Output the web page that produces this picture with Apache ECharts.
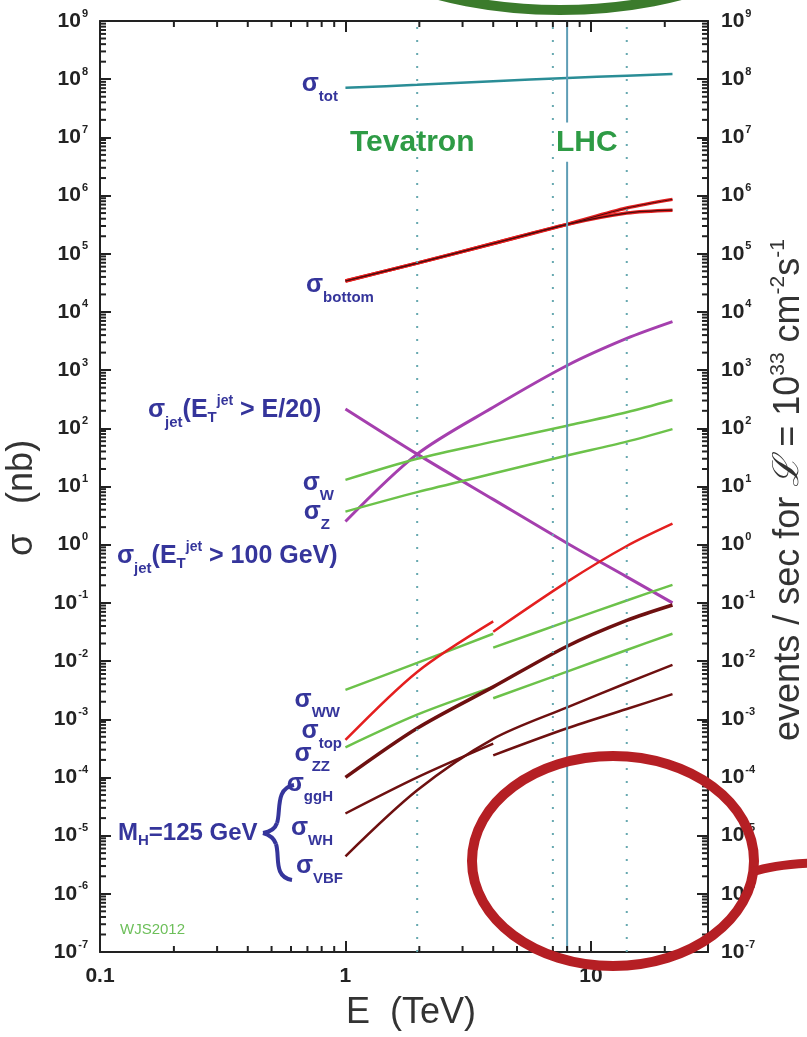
<!DOCTYPE html>
<html>
<head>
<meta charset="utf-8">
<script src="https://cdn.jsdelivr.net/npm/echarts@6/dist/echarts.min.js"></script>
<style>
html, body { margin: 0; padding: 0; background: #fff; }
#main { width: 807px; height: 1037px; }
</style>
</head>
<body>
<div id="main"></div>
<script>
// ---- data (E in TeV, sigma in nb) ----
var eFull  = [1, 1.96, 4, 8, 14, 21.5];
var ePpbar = [1, 1.96, 4];
var ePp    = [4, 8, 14, 21.5];

var sigTot       = [7.1e7, 8.0e7, 9.2e7, 1.05e8, 1.15e8, 1.23e8];
var sigBottom    = [3.4e4, 6.9e4, 1.5e5, 3.2e5, 6.1e5, 8.6e5];
var sigBottomAlt = [3.4e4, 6.9e4, 1.5e5, 3.2e5, 5.0e5, 5.6e5];
var sigJet100    = [2.5, 36, 230, 1200, 3500, 6800];
var sigJetE20    = [215, 36, 6.0, 1.06, 0.28, 0.1];
var sigW         = [13, 30, 59, 111, 189, 307];
var sigZ         = [3.7, 8, 16.7, 34, 59, 97];
var sigGgH       = [1e-4, 7e-4, 3.6e-3, 1.8e-2, 5.0e-2, 9.2e-2];
var sigVBF       = [4.4e-6, 6e-5, 4.6e-4, 1.6e-3, 4.2e-3, 8.6e-3];

var sigWWPpbar  = [3.2e-3, 9.3e-3, 2.95e-2];
var sigWWPp     = [1.7e-2, 4.8e-2, 0.11, 0.204];
var sigTopPpbar = [4.4e-4, 6.5e-3, 4.8e-2];
var sigTopPp    = [3.2e-2, 0.23, 0.95, 2.3];
var sigZZPpbar  = [3.3e-4, 1.2e-3, 3.6e-3];
var sigZZPp     = [2.3e-3, 6.6e-3, 1.55e-2, 2.95e-2];
var sigWHPpbar  = [2.4e-5, 1.0e-4, 3.8e-4];
var sigWHPp     = [2.4e-4, 7e-4, 1.5e-3, 2.7e-3];

// collider energies
var eTevatron = 1.96;
var eLHC = [7, 14];
var eLHCrun = 8;

// axis ranges and minor tick multipliers
var xMin = 0.1, xMax = 30;
var yMin = 1e-7, yMax = 1e9;
var minorMult = [2, 3, 4, 5, 6, 7, 8, 9];

var xMinorTicks = [];
[0.1, 1, 10].forEach(function (d) {
    minorMult.forEach(function (m) { if (d * m < xMax) xMinorTicks.push(d * m); });
});
var yMinorTicks = [];
for (var k = -7; k < 9; k++) {
    minorMult.forEach(function (m) { yMinorTicks.push(m * Math.pow(10, k)); });
}

var blue = '#35359b';
var font = 'Liberation Sans';

function pairs(xs, ys) {
    return xs.map(function (x, i) { return [x, ys[i]]; });
}
function curve(name, xs, ys, color, width, z) {
    return {
        name: name, type: 'line', data: pairs(xs, ys),
        showSymbol: false, smooth: 0.3, silent: true,
        lineStyle: { color: color, width: width }, z: z || 3
    };
}
function vline(x, y1, y2, color, type) {
    return {
        type: 'line', data: [[x, y1], [x, y2]], showSymbol: false, silent: true,
        lineStyle: { color: color, width: 2, type: type }, z: 6
    };
}

function powLabel(v) {
    var e = Math.log10(v);
    var r = Math.round(e);
    if (Math.abs(e - r) > 1e-6) return '';
    return '{b|10}{e|' + r + '}';
}
var tickRich = {
    b: { fontSize: 21, fontWeight: 'bold', color: '#222', fontFamily: font },
    e: { fontSize: 11, fontWeight: 'bold', color: '#222', fontFamily: font, padding: [0, 0, 15, 1] }
};
var axisCommon = {
    type: 'log', logBase: 10, interval: 1,
    axisLine: { show: true, onZero: false, lineStyle: { color: '#222', width: 2 } },
    axisTick: { show: true, inside: true, length: 11, lineStyle: { color: '#222', width: 2 } },
    splitLine: { show: false },
    minorTick: { show: false }
};

// sub/superscripts are shifted with padding (top pad lowers, bottom pad raises)
var labRich = {
    m: { fontSize: 25, fontWeight: 'bold', fill: blue, fontFamily: font },
    n: { fontSize: 24, fontWeight: 'bold', fill: blue, fontFamily: font },
    s: { fontSize: 15, fontWeight: 'bold', fill: blue, fontFamily: font, padding: [26, 0, 0, 0] },
    t: { fontSize: 15, fontWeight: 'bold', fill: blue, fontFamily: font, padding: [16, 0, 0, 0] },
    p: { fontSize: 14, fontWeight: 'bold', fill: blue, fontFamily: font, padding: [0, 0, 18, 0] }
};
function lab(x, y, text, align) {
    return { type: 'text', x: x, y: y, z: 20,
        style: { text: text, rich: labRich, fill: blue, align: align || 'right', verticalAlign: 'middle' } };
}
function bez(p) {
    return { type: 'bezierCurve', z: 50,
        shape: { x1: p[0], y1: p[1], cpx1: p[2], cpy1: p[3], cpx2: p[4], cpy2: p[5], x2: p[6], y2: p[7] } };
}

var chart = echarts.init(document.getElementById('main'), null, { renderer: 'canvas' });

var braceParts = [
    [294, 785, 275, 788, 281, 812, 277, 823],
    [277, 823, 275, 829, 270, 832, 263, 833],
    [263, 833, 270, 835, 274, 838, 276, 844],
    [276, 844, 280, 856, 273, 877, 292, 880]
].map(function (p) {
    var b = bez(p);
    b.style = { fill: 'none', stroke: blue, lineWidth: 4 };
    return b;
});
var tail = bez([752, 872, 770, 866, 790, 864, 810, 863]);
tail.style = { fill: 'none', stroke: '#b51f24', lineWidth: 9 };

var option = {
    backgroundColor: '#fff',
    animation: false,
    grid: { left: 100, right: 99, top: 21, bottom: 85, show: false },
    xAxis: [
        Object.assign({}, axisCommon, {
            position: 'bottom', min: xMin, max: xMax,
            axisLabel: {
                margin: 14, fontSize: 21, fontWeight: 'bold', color: '#222', fontFamily: font,
                formatter: function (v) {
                    var e = Math.log10(v);
                    if (Math.abs(e - Math.round(e)) > 1e-6) return '';
                    return String(+v.toPrecision(3));
                }
            }
        }),
        Object.assign({}, axisCommon, {
            position: 'top', min: xMin, max: xMax, axisLabel: { show: false }
        })
    ],
    yAxis: [
        Object.assign({}, axisCommon, {
            position: 'left', min: yMin, max: yMax,
            axisLabel: { margin: 12, formatter: powLabel, rich: tickRich }
        }),
        Object.assign({}, axisCommon, {
            position: 'right', min: yMin, max: yMax,
            axisLabel: { margin: 13, formatter: powLabel, rich: tickRich }
        })
    ],
    graphic: [
        // axis titles
        { type: 'text', x: 411, y: 1013, z: 20,
          style: { text: 'E  (TeV)', font: '36px Liberation Sans', fill: '#333', align: 'center', verticalAlign: 'middle' } },
        { type: 'text', x: 22, y: 498, rotation: Math.PI / 2, z: 20,
          style: { text: 'σ   (nb)', font: '36px Liberation Sans', fill: '#333', align: 'center', verticalAlign: 'middle' } },
        { type: 'text', x: 789, y: 490, rotation: Math.PI / 2, z: 20,
          style: {
              text: '{n|events / sec for }{i|ℒ}{n| = 10}{p|33}{n| cm}{p|-2}{n|s}{p|-1}',
              align: 'center', verticalAlign: 'middle', fill: '#333',
              rich: {
                  n: { fontSize: 36, fill: '#333', fontFamily: font },
                  i: { fontSize: 36, fill: '#333', fontFamily: 'DejaVu Serif', fontStyle: 'italic' },
                  p: { fontSize: 21, fill: '#333', fontFamily: font, padding: [0, 0, 22, 0] }
              }
          } },
        // collider names
        { type: 'text', x: 350, y: 143, z: 20,
          style: { text: 'Tevatron', font: 'bold 30px Liberation Sans', fill: '#2e9b45', verticalAlign: 'middle' } },
        { type: 'text', x: 556, y: 143, z: 20,
          style: { text: 'LHC', font: 'bold 30px Liberation Sans', fill: '#2e9b45', verticalAlign: 'middle' } },
        { type: 'text', x: 120, y: 930, z: 20,
          style: { text: 'WJS2012', font: '15px Liberation Sans', fill: '#6dbf5a', verticalAlign: 'middle' } },
        // curve labels
        lab(338, 84, '{m|σ}{s|tot}'),
        lab(306, 285, '{m|σ}{s|bottom}', 'left'),
        lab(148, 410, '{m|σ}{s|jet}{m|(E}{t|T}{p|jet}{m| > E/20)}', 'left'),
        lab(334, 483, '{m|σ}{s|W}'),
        lab(330, 512, '{m|σ}{s|Z}'),
        lab(117, 556, '{m|σ}{s|jet}{m|(E}{t|T}{p|jet}{m| > 100 GeV)}', 'left'),
        lab(340, 700, '{m|σ}{s|WW}'),
        lab(342, 731, '{m|σ}{s|top}'),
        lab(330, 754, '{m|σ}{s|ZZ}'),
        lab(333, 784, '{m|σ}{s|ggH}'),
        lab(333, 828, '{m|σ}{s|WH}'),
        lab(343, 866, '{m|σ}{s|VBF}'),
        lab(118, 833, '{n|M}{t|H}{n|=125 GeV}', 'left'),
        // annotation rings
        { type: 'ellipse', z: 50, shape: { cx: 613, cy: 861, rx: 141, ry: 105 },
          style: { fill: 'none', stroke: '#b51f24', lineWidth: 10 } },
        tail,
        { type: 'ellipse', z: 50, shape: { cx: 560, cy: -100, rx: 240, ry: 110 },
          style: { fill: 'none', stroke: '#3b7b2c', lineWidth: 10 } }
    ].concat(braceParts),
    series: [
        // collider lines
        vline(eTevatron, yMin, yMax, '#67a9b0', [2, 11]),
        vline(eLHC[0], yMin, yMax, '#67a9b0', [2, 11]),
        vline(eLHC[1], yMin, yMax, '#67a9b0', [2, 11]),
        vline(eLHCrun, yMax, 1.8e7, '#5e9db5', 'solid'),
        vline(eLHCrun, 3.8e6, yMin, '#5e9db5', 'solid'),
        // cross sections
        curve('tot', eFull, sigTot, '#2a8d96', 2.5),
        curve('bottom alt', eFull, sigBottomAlt, '#e41f1f', 3.5),
        curve('bottom', eFull, sigBottom, '#e41f1f', 3.5),
        curve('bottom alt core', eFull, sigBottomAlt, '#4a0c0c', 1.2, 4),
        curve('bottom core', eFull, sigBottom, '#4a0c0c', 1, 4),
        curve('jet E/20', eFull, sigJetE20, '#a53fae', 3),
        curve('jet 100', eFull, sigJet100, '#a53fae', 3),
        curve('W', eFull, sigW, '#6cc24a', 2.5),
        curve('Z', eFull, sigZ, '#6cc24a', 2.5),
        curve('WW ppbar', ePpbar, sigWWPpbar, '#6cc24a', 2.5),
        curve('WW pp', ePp, sigWWPp, '#6cc24a', 2.5),
        curve('top ppbar', ePpbar, sigTopPpbar, '#e41f1f', 2.5),
        curve('top pp', ePp, sigTopPp, '#e41f1f', 2.5),
        curve('ZZ ppbar', ePpbar, sigZZPpbar, '#6cc24a', 2.5),
        curve('ZZ pp', ePp, sigZZPp, '#6cc24a', 2.5),
        curve('ggH', eFull, sigGgH, '#6e1010', 3.5),
        curve('WH ppbar', ePpbar, sigWHPpbar, '#6e1010', 2.5),
        curve('WH pp', ePp, sigWHPp, '#6e1010', 2.5),
        curve('VBF', eFull, sigVBF, '#6e1010', 2.5),
        // minor ticks on all four sides
        {
            type: 'custom', silent: true, z: 10, clip: false,
            data: xMinorTicks.map(function (v) { return [v, 1, 0]; })
                .concat(yMinorTicks.map(function (v) { return [1, v, 1]; })),
            encode: { x: 0, y: 1 },
            renderItem: function (params, api) {
                var cs = params.coordSys;
                var len = 6;
                var st = { stroke: '#222', lineWidth: 2 };
                if (api.value(2) === 0) {
                    var x = api.coord([api.value(0), 1])[0];
                    return { type: 'group', children: [
                        { type: 'line', shape: { x1: x, y1: cs.y + cs.height, x2: x, y2: cs.y + cs.height - len }, style: st },
                        { type: 'line', shape: { x1: x, y1: cs.y, x2: x, y2: cs.y + len }, style: st }
                    ] };
                }
                var y = api.coord([1, api.value(1)])[1];
                return { type: 'group', children: [
                    { type: 'line', shape: { x1: cs.x, y1: y, x2: cs.x + len, y2: y }, style: st },
                    { type: 'line', shape: { x1: cs.x + cs.width, y1: y, x2: cs.x + cs.width - len, y2: y }, style: st }
                ] };
            }
        }
    ]
};

chart.setOption(option);
</script>
</body>
</html>
